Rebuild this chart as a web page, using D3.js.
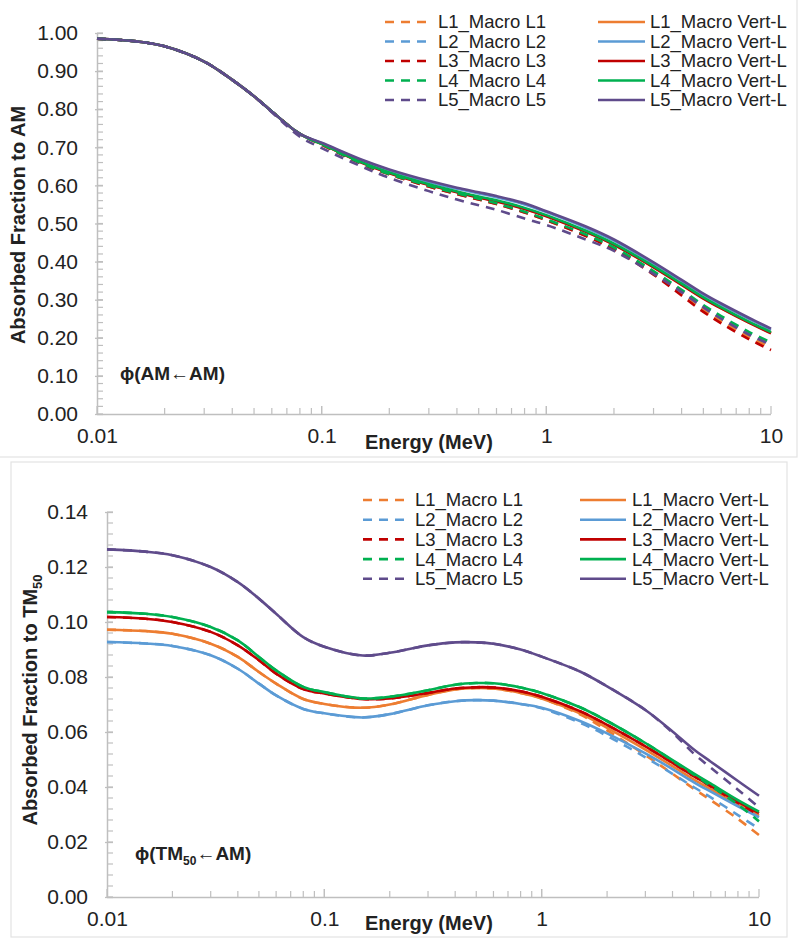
<!DOCTYPE html>
<html><head><meta charset="utf-8">
<script src="https://cdn.jsdelivr.net/npm/d3@7"></script>
<style>
html,body{margin:0;padding:0;background:#fff;}
svg{display:block;font-family:"Liberation Sans",Arial,sans-serif;}
</style></head>
<body>
<svg id="c" width="800" height="939"></svg>
<script>
// ---------------- DATA ----------------
const energies = [0.01,0.015,0.02,0.03,0.04,0.05,0.06,0.08,0.1,0.15,0.2,0.3,0.4,0.5,0.6,0.8,1,1.5,2,3,4,5,6,8,10];
const xTickLabels = ["0.01","0.1","1","10"];
const legendDashed = ["L1_Macro L1","L2_Macro L2","L3_Macro L3","L4_Macro L4","L5_Macro L5"];
const legendSolid = ["L1_Macro Vert-L","L2_Macro Vert-L","L3_Macro Vert-L","L4_Macro Vert-L","L5_Macro Vert-L"];
const seriesColors = ["#ED7D31","#5B9BD5","#C00000","#00B050","#5F4B8B"];

// Top chart: phi(AM <- AM)
const amL1Macro = [0.985,0.978,0.965,0.925,0.877,0.834,0.794,0.735,0.707,0.657,0.629,0.597,0.577,0.563,0.551,0.529,0.509,0.468,0.434,0.370,0.316,0.274,0.244,0.202,0.175];
const amL1Vert  = [0.985,0.978,0.965,0.925,0.877,0.834,0.794,0.735,0.709,0.661,0.633,0.602,0.583,0.569,0.559,0.539,0.520,0.479,0.445,0.386,0.340,0.304,0.278,0.240,0.213];
const amL2Macro = [0.985,0.978,0.965,0.925,0.877,0.834,0.794,0.735,0.708,0.658,0.630,0.598,0.578,0.564,0.552,0.530,0.510,0.470,0.436,0.373,0.322,0.281,0.252,0.210,0.183];
const amL2Vert  = [0.985,0.978,0.965,0.925,0.877,0.834,0.794,0.735,0.711,0.666,0.640,0.609,0.591,0.579,0.569,0.550,0.530,0.489,0.455,0.395,0.349,0.313,0.287,0.249,0.221];
const amL3Macro = [0.985,0.978,0.965,0.925,0.877,0.834,0.794,0.735,0.707,0.657,0.629,0.597,0.577,0.563,0.551,0.529,0.509,0.467,0.432,0.366,0.311,0.268,0.238,0.196,0.168];
const amL3Vert  = [0.985,0.978,0.965,0.925,0.877,0.834,0.794,0.735,0.709,0.660,0.632,0.601,0.582,0.568,0.558,0.538,0.519,0.478,0.444,0.385,0.339,0.303,0.277,0.239,0.212];
const amL4Macro = [0.985,0.978,0.965,0.925,0.877,0.834,0.794,0.735,0.708,0.658,0.630,0.599,0.579,0.565,0.553,0.531,0.511,0.471,0.437,0.375,0.326,0.286,0.257,0.215,0.188];
const amL4Vert  = [0.985,0.978,0.965,0.925,0.877,0.834,0.794,0.735,0.709,0.661,0.634,0.603,0.584,0.571,0.561,0.541,0.522,0.481,0.447,0.388,0.342,0.306,0.280,0.242,0.215];
const amL5Macro = [0.985,0.978,0.965,0.925,0.877,0.834,0.792,0.728,0.698,0.650,0.620,0.585,0.563,0.548,0.536,0.513,0.496,0.458,0.428,0.368,0.320,0.280,0.250,0.208,0.182];
const amL5Vert  = [0.985,0.978,0.965,0.925,0.877,0.834,0.794,0.735,0.712,0.668,0.642,0.612,0.594,0.582,0.572,0.553,0.532,0.492,0.458,0.398,0.352,0.316,0.290,0.252,0.224];

// Bottom chart: phi(TM50 <- AM)
const tmL1Macro = [0.0972,0.0967,0.0957,0.0921,0.0873,0.0818,0.0776,0.0720,0.0702,0.0688,0.0700,0.0735,0.0755,0.0760,0.0758,0.0742,0.0722,0.0664,0.0606,0.0516,0.0448,0.0394,0.0352,0.0284,0.0225];
const tmL1Vert  = [0.0972,0.0967,0.0957,0.0921,0.0873,0.0818,0.0776,0.0720,0.0702,0.0688,0.0700,0.0735,0.0755,0.0760,0.0758,0.0742,0.0722,0.0668,0.0615,0.0536,0.0476,0.0428,0.0392,0.0336,0.0296];
const tmL2Macro = [0.0927,0.0922,0.0913,0.0879,0.0830,0.0776,0.0733,0.0684,0.0668,0.0653,0.0665,0.0697,0.0712,0.0716,0.0714,0.0702,0.0686,0.0634,0.0586,0.0508,0.0448,0.0400,0.0362,0.0298,0.0248];
const tmL2Vert  = [0.0927,0.0922,0.0913,0.0879,0.0830,0.0776,0.0733,0.0684,0.0668,0.0653,0.0665,0.0697,0.0712,0.0716,0.0714,0.0702,0.0688,0.0640,0.0595,0.0522,0.0465,0.0418,0.0383,0.0330,0.0290];
const tmL3Macro = [0.1018,0.1012,0.1000,0.0964,0.0915,0.0861,0.0812,0.0756,0.0740,0.0720,0.0722,0.0742,0.0758,0.0763,0.0762,0.0748,0.0728,0.0676,0.0626,0.0548,0.0488,0.0440,0.0402,0.0342,0.0298];
const tmL3Vert  = [0.1018,0.1012,0.1000,0.0964,0.0915,0.0861,0.0812,0.0756,0.0740,0.0720,0.0722,0.0742,0.0758,0.0763,0.0762,0.0748,0.0728,0.0676,0.0626,0.0548,0.0488,0.0440,0.0403,0.0346,0.0305];
const tmL4Macro = [0.1036,0.1030,0.1018,0.0982,0.0933,0.0873,0.0824,0.0764,0.0745,0.0722,0.0728,0.0752,0.0772,0.0778,0.0777,0.0762,0.0742,0.0690,0.0640,0.0560,0.0496,0.0446,0.0404,0.0336,0.0275];
const tmL4Vert  = [0.1036,0.1030,0.1018,0.0982,0.0933,0.0873,0.0824,0.0764,0.0745,0.0722,0.0728,0.0752,0.0772,0.0778,0.0777,0.0762,0.0742,0.0690,0.0640,0.0560,0.0498,0.0450,0.0412,0.0352,0.0310];
const tmL5Macro = [0.1264,0.1256,0.1243,0.1200,0.1145,0.1085,0.1030,0.0945,0.0910,0.0878,0.0888,0.0915,0.0926,0.0926,0.0921,0.0900,0.0874,0.0820,0.0766,0.0680,0.0598,0.0522,0.0470,0.0390,0.0326];
const tmL5Vert  = [0.1264,0.1256,0.1243,0.1200,0.1145,0.1085,0.1030,0.0945,0.0910,0.0878,0.0888,0.0915,0.0926,0.0926,0.0921,0.0900,0.0874,0.0820,0.0766,0.0680,0.0602,0.0537,0.0492,0.0422,0.0368];

const topSeries = [amL1Macro,amL1Vert,amL2Macro,amL2Vert,amL3Macro,amL3Vert,amL4Macro,amL4Vert,amL5Macro,amL5Vert];
const botSeries = [tmL1Macro,tmL1Vert,tmL2Macro,tmL2Vert,tmL3Macro,tmL3Vert,tmL4Macro,tmL4Vert,tmL5Macro,tmL5Vert];

// ---------------- DRAW ----------------
const svg = d3.select("#c");
const AXIS = "#bfbfbf", TXT = "#222";

// chart borders
svg.append("rect").attr("x",-1).attr("y",-1).attr("width",798).attr("height",458)
  .attr("fill","none").attr("stroke","#e3e3e3").attr("stroke-width",1.2);
svg.append("rect").attr("x",11).attr("y",462).attr("width",776).attr("height",475)
  .attr("fill","none").attr("stroke","#e3e3e3").attr("stroke-width",1.2);

function drawChart(cfg){
  const g = svg.append("g");
  const x = d3.scaleLog().domain([0.01,10]).range([cfg.x0,cfg.x1]);
  const y = d3.scaleLinear().domain([0,cfg.ymax]).range([cfg.yb,cfg.yt]);

  // y axis
  const yAxis = d3.axisLeft(y).tickValues(d3.range(0,cfg.ymax+1e-9,cfg.ystep)).tickSize(3).tickFormat(d3.format(".2f")).tickPadding(16);
  const ya = g.append("g").attr("transform",`translate(${cfg.x0},0)`).call(yAxis);
  ya.select(".domain").attr("stroke",AXIS).attr("stroke-width",1.5).attr("d",`M0.5,${cfg.yt}V${cfg.yb}`);
  ya.selectAll(".tick line").attr("stroke",AXIS).attr("stroke-width",1.3).attr("x1",-2).attr("x2",6);
  ya.selectAll(".tick text").attr("font-size",21).attr("fill",TXT);
  const yMinor = d3.range(0,cfg.ymax+1e-9,cfg.yminor);
  g.append("g").selectAll("line").data(yMinor).join("line")
    .attr("x1",cfg.x0).attr("x2",cfg.x0+6).attr("y1",d=>y(d)).attr("y2",d=>y(d))
    .attr("stroke",AXIS).attr("stroke-width",1.2);

  // x axis
  const xAxis = d3.axisBottom(x).tickValues([0.01,0.1,1,10]).tickSize(0)
    .tickFormat((d,i)=>xTickLabels[i]).tickPadding(14);
  const xa = g.append("g").attr("transform",`translate(0,${cfg.yb})`).call(xAxis);
  xa.select(".domain").attr("stroke",AXIS).attr("stroke-width",1.5).attr("d",`M${cfg.x0},0.5H${cfg.x1}`);
  xa.selectAll(".tick text").attr("font-size",21).attr("fill",TXT);
  const xMinor = [];
  [0.01,0.1,1].forEach(dec=>{ for(let k=1;k<=10;k++) xMinor.push(dec*k); });
  g.append("g").selectAll("line").data(xMinor).join("line")
    .attr("x1",d=>x(d)).attr("x2",d=>x(d)).attr("y1",cfg.yb).attr("y2",d=>cfg.yb-((Math.abs(Math.log10(d)-Math.round(Math.log10(d)))<1e-6)?8:6))
    .attr("stroke",AXIS).attr("stroke-width",1.2);

  // series
  const line = d3.line().x((d,i)=>x(energies[i])).y(d=>y(d)).curve(d3.curveCatmullRom.alpha(0.5));
  cfg.series.forEach((s,i)=>{
    const lvl = Math.floor(i/2), dashed = i%2===0;
    g.append("path").attr("d",line(s)).attr("fill","none")
      .attr("stroke",seriesColors[lvl]).attr("stroke-width",2.6)
      .attr("stroke-dasharray",dashed?"9,7":null);
  });

  // legend
  for(let r=0;r<5;r++){
    const yy = cfg.legY + r*cfg.legDy;
    g.append("line").attr("x1",cfg.ld0).attr("x2",cfg.ld1).attr("y1",yy).attr("y2",yy)
      .attr("stroke",seriesColors[r]).attr("stroke-width",2.6).attr("stroke-dasharray","9,7");
    g.append("text").attr("x",cfg.ldt).attr("y",yy).attr("dy","0.35em").attr("font-size",18.5).attr("fill",TXT).text(legendDashed[r]);
    g.append("line").attr("x1",cfg.ls0).attr("x2",cfg.ls1).attr("y1",yy).attr("y2",yy)
      .attr("stroke",seriesColors[r]).attr("stroke-width",2.6);
    g.append("text").attr("x",cfg.lst).attr("y",yy).attr("dy","0.35em").attr("font-size",18.5).attr("fill",TXT).text(legendSolid[r]);
  }

  // x title
  g.append("text").attr("x",cfg.xtX).attr("y",cfg.xtY).attr("dy","0.35em").attr("font-size",20)
    .attr("font-weight","bold").attr("fill",TXT).text("Energy (MeV)");
  // y title
  const yt = g.append("text").attr("transform",`translate(${cfg.ytX},${cfg.ytY}) rotate(-90)`)
    .attr("text-anchor","middle").attr("dy","0.35em").attr("font-size",20).attr("font-weight","bold").attr("fill",TXT);
  yt.append("tspan").text(cfg.ytitle);
  if(cfg.ysub){ yt.append("tspan").attr("font-size",13).attr("dy",5).text(cfg.ysub); }
  // annotation
  const an = g.append("text").attr("x",cfg.anX).attr("y",cfg.anY).attr("dy","0.35em").attr("font-size",19)
    .attr("font-weight","bold").attr("fill",TXT);
  cfg.ann.forEach(p=>{ const t=an.append("tspan").text(p.t); if(p.sub){t.attr("font-size",12).attr("dy",5);} if(p.up){t.attr("dy",-5);} });
}

drawChart({x0:97,x1:771,yt:33,yb:414,ymax:1.0,ystep:0.1,yminor:0.02,series:topSeries,
  legY:22,legDy:19.5,ld0:385,ld1:432,ldt:438,ls0:598,ls1:645,lst:650,
  xtX:365,xtY:442,ytX:18,ytY:225,ytitle:"Absorbed Fraction to AM",ysub:null,
  anX:120,anY:373,ann:[{t:"\u03D5(AM\u2190AM)"}]});

drawChart({x0:107,x1:759,yt:512,yb:897,ymax:0.14,ystep:0.02,yminor:0.004,series:botSeries,
  legY:500,legDy:19.7,ld0:363,ld1:411,ldt:415,ls0:580,ls1:626,lst:632,
  xtX:365,xtY:923,ytX:30,ytY:700,ytitle:"Absorbed Fraction to TM",ysub:"50",
  anX:135,anY:853,ann:[{t:"\u03D5(TM"},{t:"50",sub:true},{t:"\u2190AM)",up:true}]});
</script>
</body></html>
